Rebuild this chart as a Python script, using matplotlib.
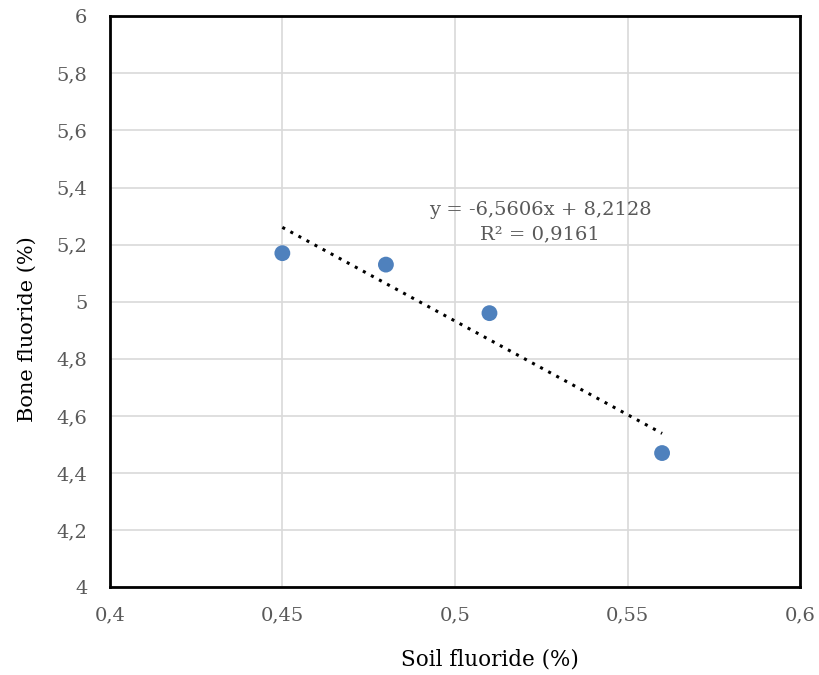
import matplotlib
matplotlib.use("Agg")
import matplotlib.pyplot as plt
import numpy as np

soil = [0.45, 0.48, 0.51, 0.56]
bone = [5.17, 5.13, 4.96, 4.47]
slope, intercept = -6.5606, 8.2128
r2 = 0.9161
xticks = [0.4, 0.45, 0.5, 0.55, 0.6]
xlabels = ["0,4", "0,45", "0,5", "0,55", "0,6"]
yticks = [4, 4.2, 4.4, 4.6, 4.8, 5, 5.2, 5.4, 5.6, 5.8, 6]
ylabels = ["4", "4,2", "4,4", "4,6", "4,8", "5", "5,2", "5,4", "5,6", "5,8", "6"]

plt.rcParams['font.family'] = ['DejaVu Serif']

fig = plt.figure(figsize=(8.19, 6.75), dpi=100)
ax = fig.add_axes([0.134, 0.130, 0.843, 0.846])

ax.set_xlim(0.4, 0.6)
ax.set_ylim(4, 6)
ax.set_xticks(xticks)
ax.set_xticklabels(xlabels)
ax.set_yticks(yticks)
ax.set_yticklabels(ylabels)
ax.grid(True, color='#D9D9D9', linewidth=1.2)
ax.set_axisbelow(True)
for s in ax.spines.values():
    s.set_color('black')
    s.set_linewidth(2)
ax.tick_params(axis='y', length=0, labelsize=14, labelcolor='#595959', pad=16)
ax.tick_params(axis='x', length=0, labelsize=14, labelcolor='#595959', pad=14)

xt = np.array([min(soil), max(soil)])
ax.plot(xt, slope * xt + intercept, linestyle=(0, (1, 2)), color='black', linewidth=2.2, zorder=2)
ax.scatter(soil, bone, s=130, color='#4F81BD', zorder=3, edgecolors='none')

ax.text(0.5246, 5.28, "y = -6,5606x + 8,2128\nR² = 0,9161", ha='center', va='center',
        fontsize=14, color='#595959', linespacing=1.45)

ax.set_xlabel("Soil fluoride (%)", fontsize=15.5, color='black', va='center')
ax.xaxis.set_label_coords(0.551, -0.126)
ax.set_ylabel("Bone fluoride (%)", fontsize=15, color='black', va='center')
ax.yaxis.set_label_coords(-0.120, 0.452)

fig.savefig("out.png", dpi=100)
